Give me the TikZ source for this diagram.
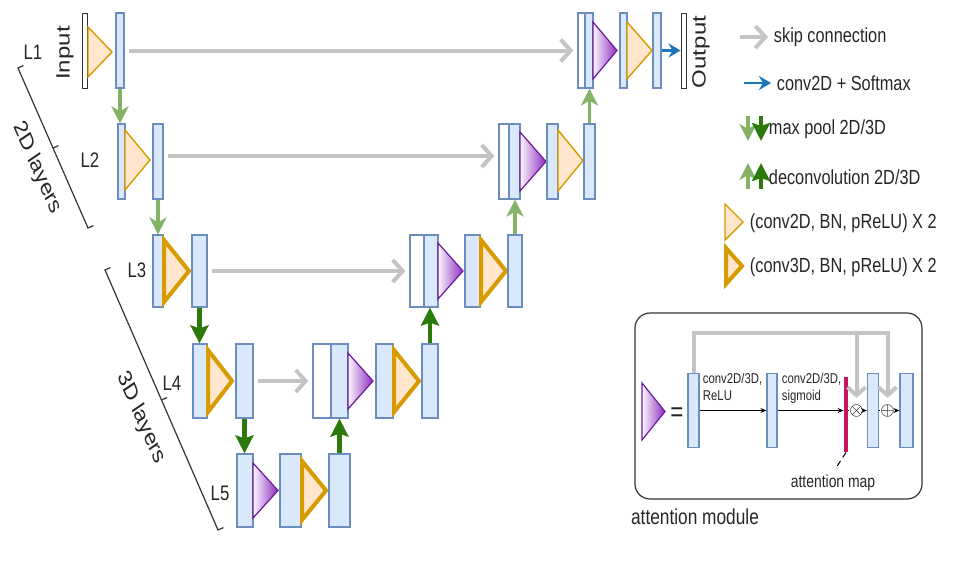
\documentclass[tikz,border=0pt]{standalone}
\usepackage{fontspec}
\setmainfont{Liberation Sans}
\usetikzlibrary{arrows.meta,calc}
\definecolor{boxfill}{HTML}{DAE8FC}
\definecolor{boxedge}{HTML}{6C8EBF}
\definecolor{orfill}{HTML}{FFE6CC}
\definecolor{oredge}{HTML}{D79B00}
\definecolor{purp}{HTML}{8E2BC0}
\definecolor{purpedge}{HTML}{6A1B9A}
\definecolor{skipgray}{HTML}{C4C4C4}
\definecolor{lgreen}{HTML}{82B366}
\definecolor{dgreen}{HTML}{2B7A0B}
\definecolor{sblue}{HTML}{1B75BB}
\definecolor{attmap}{HTML}{C8155E}
\def\tri[#1](#2,#3,#4,#5){\draw[#1] (#2,#4) -- (#3,{(#4+#5)/2}) -- (#2,#5) -- cycle;}
\tikzset{
	blk/.style={draw=boxedge, fill=boxfill, line width=0.6pt, inner sep=0pt, minimum height=37.5pt},
	wblk/.style={blk, fill=white},
	ioblk/.style={blk, fill=white, draw=black!80, line width=0.45pt},
	tri2d/.style={draw=oredge, fill=orfill, line width=0.7pt},
	tri3d/.style={draw=oredge, fill=orfill, line width=2pt},
	triatt/.style={draw=purpedge, line width=0.6pt, left color=purp!4, right color=purp},
	skiparr/.style={skipgray, line width=2pt, shorten <=2pt, shorten >=2pt, -{Straight Barb[length=5pt,width=11pt]}},
	pool2d/.style={lgreen, line width=1.7pt, -{Stealth[length=8.5pt,width=8.5pt,inset=2.5pt]}},
	pool3d/.style={dgreen, line width=2.2pt, -{Stealth[length=9pt,width=9pt,inset=1.5pt]}},
	smax/.style={sblue, line width=1.3pt, -{Stealth[length=6pt,width=7pt,inset=2pt]}},
	attarr/.style={black, line width=0.5pt, -{Stealth[length=3pt,width=2.5pt]}},
	attskip/.style={skipgray, line width=2pt, shorten >=3pt, -{Straight Barb[length=4pt,width=9pt]}},
	txt/.style={xscale=0.8, inner sep=1pt, text=black!85, font=\fontsize{10.2}{12.5}\selectfont},
	lab/.style={txt, font=\fontsize{10.5}{12}\selectfont},
	vtxt/.style={txt, font=\fontsize{12}{14}\selectfont},
	small/.style={txt, align=left, anchor=north west, font=\fontsize{7.1}{8.5}\selectfont}
}
\begin{document}
\begin{tikzpicture}[x=0.5pt, y=-0.5pt]
			%%%%% START %%%%%
			\useasboundingbox (0,0) rectangle (974,573);
			
			% level 1
			\node[ioblk, minimum width=2.5pt] (inp) at (85,50.5) {};
			\node[vtxt, rotate=90] (inlab) at (65,53) {Input};
			\tri[tri2d](88,112,27,77)
			\node[blk, minimum width=4pt] (e1) at (120,50.5) {};
			\node[wblk, minimum width=3.5pt] (d1w) at (581.5,50.5) {};
			\node[blk, minimum width=4pt] (d1a) at (589,50.5) {};
			\tri[triatt](593,617,22,79)
			\node[blk, minimum width=3.5pt] (d1b) at (623.5,50.5) {};
			\tri[tri2d](627,652,22,79)
			\node[blk, minimum width=4pt] (d1c) at (657,50.5) {};
			\node[ioblk, minimum width=2.5pt] (out) at (683.5,50.5) {};
			\node[vtxt, rotate=90] (outlab) at (701,52) {Output};
			\node[lab] (l1) at (33,52) {L1};
			
			% level 2
			\node[blk, minimum width=3.5pt] (e2a) at (121.5,161.5) {};
			\tri[tri2d](125,150,130,190)
			\node[blk, minimum width=5pt] (e2b) at (158,161.5) {};
			\node[wblk, minimum width=5pt] (d2w) at (504,161.5) {};
			\node[blk, minimum width=5.5pt] (d2a) at (514.5,161.5) {};
			\tri[triatt](520,546,132,191)
			\node[blk, minimum width=5.5pt] (d2b) at (552.5,161.5) {};
			\tri[tri2d](558,583,130,191)
			\node[blk, minimum width=5.5pt] (d2c) at (589.5,161.5) {};
			\node[lab] (l2) at (90,160) {L2};
			
			% level 3
			\node[blk, minimum width=5pt, minimum height=36pt] (e3a) at (158,271) {};
			\tri[tri3d](164,189,240,302)
			\node[blk, minimum width=7.5pt, minimum height=36pt] (e3b) at (199.5,271) {};
			\node[wblk, minimum width=7pt, minimum height=36pt] (d3w) at (417,271) {};
			\node[blk, minimum width=7pt, minimum height=36pt] (d3a) at (431,271) {};
			\tri[triatt](438,463,243,299)
			\node[blk, minimum width=7.5pt, minimum height=36pt] (d3b) at (472.5,271) {};
			\tri[tri3d](481,506,240,302)
			\node[blk, minimum width=7pt, minimum height=36pt] (d3c) at (515,271) {};
			\node[lab] (l3) at (137,270) {L3};
			
			% level 4
			\node[blk, minimum width=7pt, minimum height=37pt] (e4a) at (200,381) {};
			\tri[tri3d](208,232,350,412)
			\node[blk, minimum width=8.5pt, minimum height=37pt] (e4b) at (244.5,381) {};
			\node[wblk, minimum width=9pt, minimum height=37pt] (d4w) at (322,381) {};
			\node[blk, minimum width=8.5pt, minimum height=37pt] (d4a) at (339.5,381) {};
			\tri[triatt](348,373,353,409)
			\node[blk, minimum width=8.5pt, minimum height=37pt] (d4b) at (384.5,381) {};
			\tri[tri3d](394,419,350,412)
			\node[blk, minimum width=8pt, minimum height=37pt] (d4c) at (430,381) {};
			\node[lab] (l4) at (172,383) {L4};
			
			% level 5
			\node[blk, minimum width=8pt, minimum height=36.5pt] (f5a) at (245,490.5) {};
			\tri[triatt](253,278,463,518)
			\node[blk, minimum width=10.5pt, minimum height=36.5pt] (f5b) at (290.5,490.5) {};
			\tri[tri3d](302,326,461,520)
			\node[blk, minimum width=10.5pt, minimum height=36.5pt] (f5c) at (339.5,490.5) {};
			\node[lab] (l5) at (220,493) {L5};
			
			% skip connections
			\draw[skiparr] (e1.east) -- (d1w.west);
			\draw[skiparr] ([yshift=2.75pt]e2b.east) -- ([yshift=2.75pt]d2w.west);
			\draw[skiparr] (e3b.east) -- (d3w.west);
			\draw[skiparr] (e4b.east) -- (d4w.west);
			\draw[smax] (d1c.east) -- (out.west);
			
			% down and up
			\draw[pool2d] (e1.south) -- (e1.south |- e2a.north);
			\draw[pool2d] (e2b.south) -- (e2b.south |- e3a.north);
			\draw[pool3d] (e3b.south) -- (e3b.south |- e4a.north);
			\draw[pool3d] (e4b.south) -- (e4b.south |- f5a.north);
			\draw[pool3d] (f5c.north) -- (f5c.north |- d4a.south);
			\draw[pool3d] (d4c.north) -- (d4c.north |- d3a.south);
			\draw[pool2d] (d3c.north) -- (d3c.north |- d2a.south);
			\draw[pool2d] (d2c.north) -- (d2c.north |- d1a.south);
			
			% brackets
			\draw[black!80, line width=0.6pt] (23.5,65.6) -- (18,68) -- (88,228) -- (93.5,225.6);
			\draw[black!80, line width=0.6pt] (53,148) -- (58.5,145.6);
			\node[txt, rotate=-61.4, font=\fontsize{12}{14}\selectfont] (lay2) at (37,168) {2D layers};
			\draw[black!80, line width=0.6pt] (110.5,267.6) -- (105,270) -- (218,530) -- (223.5,527.6);
			\draw[black!80, line width=0.6pt] (161.5,400) -- (167,397.6);
			\node[txt, rotate=-61.4, font=\fontsize{12}{14}\selectfont] (lay3) at (141,418) {3D layers};
			
			% legend
			\coordinate (sk0) at (740,37);
			\node[txt, anchor=west] (sk1) at (772,37) {skip connection};
			\draw[skipgray, line width=2pt, shorten >=2pt, -{Straight Barb[length=5pt,width=11pt]}] (sk0) -- (sk1.west);
			\coordinate (sm0) at (744,83);
			\node[txt, anchor=west] (sm1) at (775,83) {conv2D + Softmax};
			\draw[smax, shorten >=2pt] (sm0) -- (sm1.west);
			\coordinate (mp0) at (748,116);
			\coordinate (mp1) at (748,141);
			\coordinate (mq0) at (761,116);
			\coordinate (mq1) at (761,141);
			\draw[pool2d] (mp0) -- (mp1);
			\draw[pool3d] (mq0) -- (mq1);
			\node[txt, anchor=west] (mpt) at (767,129) {max pool 2D/3D};
			\coordinate (dc0) at (748,189);
			\coordinate (dc1) at (748,163);
			\coordinate (dd0) at (761,189);
			\coordinate (dd1) at (761,163);
			\draw[pool2d] (dc0) -- (dc1);
			\draw[pool3d] (dd0) -- (dd1);
			\node[txt, anchor=west] (dct) at (767,177) {deconvolution 2D/3D};
			\tri[tri2d](725,743,204,240)
			\node[txt, anchor=west] (c2t) at (748,223) {(conv2D, BN, pReLU) X 2};
			\tri[tri3d](726,742,248,284)
			\node[txt, anchor=west] (c3t) at (748,267) {(conv3D, BN, pReLU) X 2};
			
			% attention module
			\node[draw=black!80, line width=0.6pt, rounded corners=7.5pt, inner sep=0pt, minimum width=143.5pt, minimum height=93pt] (attbox) at (778.5,406) {};
			\tri[triatt](642,665,383,440)
			\node[txt, font=\fontsize{14}{14}\selectfont] (eq) at (677,415) {=};
			\node[blk, minimum width=5.5pt, minimum height=37pt] (a1) at (693.5,410.5) {};
			\node[blk, minimum width=5pt, minimum height=37pt] (a2) at (772,410.5) {};
			\node[fill=attmap, inner sep=0pt, minimum width=2pt, minimum height=37.5pt] (bar) at (846,414.5) {};
			\node[inner sep=0pt, font=\fontsize{9}{9}\selectfont] (mul) at (856.5,410.5) {$\otimes$};
			\node[blk, minimum width=5.5pt, minimum height=37pt] (a3) at (873,410.5) {};
			\node[inner sep=0pt, font=\fontsize{9}{9}\selectfont] (add) at (887.5,410.5) {$\oplus$};
			\node[blk, minimum width=6.5pt, minimum height=37pt] (a4) at (906.5,410.5) {};
			\node[small] (c1) at (701,371) {conv2D/3D,\\ReLU};
			\node[small] (c2) at (780,371) {conv2D/3D,\\sigmoid};
			\coordinate (atop) at (693.5,333);
			\draw[attskip] (a1.north) -- (atop) -| (add.north);
			\draw[attskip] (atop -| mul) -- (mul.north);
			\draw[attarr] (a1.east) -- (a2.west);
			\draw[attarr] (a2.east) -- (bar.west |- a2.east);
			\draw[line width=0.5pt] (bar.east |- mul.west) -- (mul.west);
			\draw[attarr] (mul.east) -- (a3.west);
			\draw[line width=0.5pt] (a3.east) -- (add.west);
			\draw[attarr] (add.east) -- (a4.west);
			\node[txt, font=\fontsize{8.7}{10}\selectfont] (mapl) at (833,483) {attention map};
			\draw[densely dashed, line width=0.5pt, shorten >=3pt] (bar.south) -- (mapl.north);
			\node[txt, font=\fontsize{10.8}{12}\selectfont] (amod) at (695,517) {attention module};
			
			%%%%% END %%%%%
\end{tikzpicture}
\end{document}
